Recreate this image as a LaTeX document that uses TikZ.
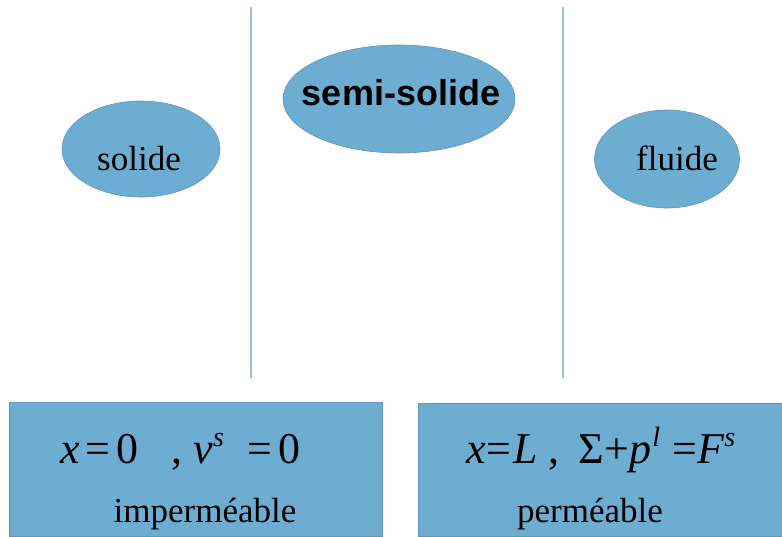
\documentclass[tikz,border=0pt]{standalone}
\usepackage{fontspec}
\setmainfont{Liberation Serif}
\setsansfont{Liberation Sans}
\usetikzlibrary{shapes.geometric}
\definecolor{blobblue}{RGB}{110,173,210}
\definecolor{blobedge}{RGB}{95,150,185}
\definecolor{sepline}{RGB}{150,195,210}
\newcommand{\mysup}[1]{\raisebox{0.38em}{\fontsize{28}{30}\selectfont\textit{#1}}}
\tikzset{
  blob/.style={ellipse, fill=blobblue, draw=blobedge, line width=0.6pt, inner sep=0pt},
  panel/.style={fill=blobblue, draw=blobedge, line width=0.6pt},
  sepl/.style={draw=sepline, line width=1.4pt},
  serif/.style={font=\fontsize{35}{40}\selectfont, text=black, inner sep=0pt},
  mathl/.style={font=\fontsize{44}{48}\selectfont, text=black, inner sep=0pt},
  boldsans/.style={font=\fontsize{36}{40}\selectfont\sffamily\bfseries, text=black, inner sep=0pt}
}
\begin{document}
\begin{tikzpicture}[x=1pt,y=-1pt]
\useasboundingbox (0,0) rectangle (782,536);
\fill[white] (0,0) rectangle (782,536);
% separator lines
\coordinate (l1t) at (251,7);
\coordinate (l1b) at (251,378);
\coordinate (l2t) at (563,7);
\coordinate (l2b) at (563,378);
\draw[sepl] (l1t) -- (l1b);
\draw[sepl] (l2t) -- (l2b);
% ellipses
\node[blob, minimum width=158pt, minimum height=96pt] (solideshape) at (141,149) {};
\node[serif, anchor=base] (solide) at (139,170) {solide};
\node[blob, minimum width=232pt, minimum height=108pt] (semishape) at (399,99) {};
\node[boldsans, anchor=base] (semi) at (401,105) {semi-solide};
\node[blob, minimum width=145pt, minimum height=98pt] (fluideshape) at (667,159) {};
\node[serif, anchor=base] (fluide) at (677,170) {fluide};
% panels
\path[panel] (9,402) rectangle (382,536);
\path[panel] (418,403) rectangle (782,536);
\node[mathl, anchor=base west] (leftmath) at (60,463)
  {\textit{x}\hspace{6pt}=\hspace{6pt}0\hspace{33pt},\hspace{11pt}\textit{v}\mysup{s}\hspace{24pt}=\hspace{6pt}0};
\node[serif, anchor=base] (imper) at (205,522) {imperméable};
\node[mathl, anchor=base west] (rightmath) at (466,463)
  {\textit{x}\hspace{1pt}=\hspace{2pt}\textit{L}\hspace{10pt},\hspace{20pt}Σ+\textit{p}\hspace{1pt}\mysup{l}\hspace{12pt}=\textit{F}\mysup{s}};
\node[serif, anchor=base] (perm) at (590,522) {perméable};
\end{tikzpicture}
\end{document}
